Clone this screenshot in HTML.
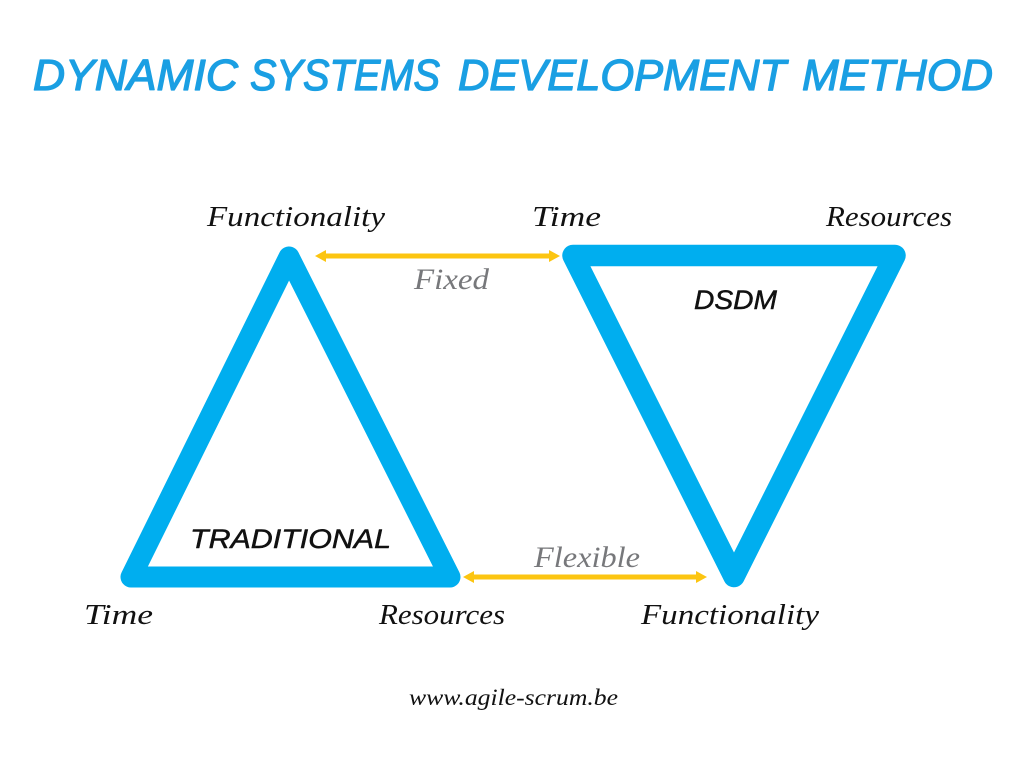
<!DOCTYPE html>
<html>
<head>
<meta charset="utf-8">
<style>
html,body{margin:0;padding:0;background:#fff;width:1024px;height:768px;overflow:hidden}
svg{display:block}
.t{font-family:"Liberation Sans",sans-serif;font-style:italic;font-size:44px;fill:#1a9fe3;stroke:#1a9fe3;stroke-width:1.3px;stroke-linejoin:round}
.l{font-family:"Liberation Serif",serif;font-style:italic;font-size:29px;fill:#111}
.g{font-family:"Liberation Serif",serif;font-style:italic;font-size:30px;fill:#77787b}
.c{font-family:"Liberation Sans",sans-serif;font-style:italic;font-size:27px;fill:#111;stroke:#111;stroke-width:.5px;stroke-linejoin:round}
</style>
</head>
<body>
<svg width="1024" height="768" viewBox="0 0 1024 768" xmlns="http://www.w3.org/2000/svg">
<rect width="1024" height="768" fill="#fff"/>
<text class="t" x="33" y="90" textLength="205" lengthAdjust="spacingAndGlyphs">DYNAMIC</text>
<text class="t" x="250" y="90" textLength="190" lengthAdjust="spacingAndGlyphs">SYSTEMS</text>
<text class="t" x="458" y="90" textLength="328" lengthAdjust="spacingAndGlyphs">DEVELOPMENT</text>
<text class="t" x="802" y="90" textLength="191" lengthAdjust="spacingAndGlyphs">METHOD</text>

<polygon points="289,257 131,577 450,577" fill="none" stroke="#00aeef" stroke-width="21" stroke-linejoin="round"/>
<polygon points="573,255.5 895,255.5 734,576.5" fill="none" stroke="#00aeef" stroke-width="21.5" stroke-linejoin="round"/>

<g fill="#fcc511">
<rect x="325" y="253.5" width="226" height="5"/>
<polygon points="315,256 326,250 326,262"/>
<polygon points="560,256 549,250 549,262"/>
<rect x="473" y="574.5" width="225" height="5"/>
<polygon points="463,577 474,571 474,583"/>
<polygon points="707,577 696,571 696,583"/>
</g>

<text class="l" x="207" y="226" textLength="178" lengthAdjust="spacingAndGlyphs">Functionality</text>
<text class="l" x="532" y="226" textLength="69" lengthAdjust="spacingAndGlyphs">Time</text>
<text class="l" x="826" y="226" textLength="126" lengthAdjust="spacingAndGlyphs">Resources</text>
<text class="l" x="84" y="624" textLength="69" lengthAdjust="spacingAndGlyphs">Time</text>
<text class="l" x="379" y="624" textLength="126" lengthAdjust="spacingAndGlyphs">Resources</text>
<text class="l" x="641" y="624" textLength="178" lengthAdjust="spacingAndGlyphs">Functionality</text>

<text class="g" x="414" y="289" textLength="75" lengthAdjust="spacingAndGlyphs">Fixed</text>
<text class="g" x="534" y="567" textLength="106" lengthAdjust="spacingAndGlyphs">Flexible</text>

<text class="c" x="694" y="309" textLength="83" lengthAdjust="spacingAndGlyphs">DSDM</text>
<text class="c" x="190" y="548" textLength="201" lengthAdjust="spacingAndGlyphs">TRADITIONAL</text>

<text class="l" x="409" y="705" style="font-size:23px" textLength="209" lengthAdjust="spacingAndGlyphs">www.agile-scrum.be</text>
</svg>
</body>
</html>
